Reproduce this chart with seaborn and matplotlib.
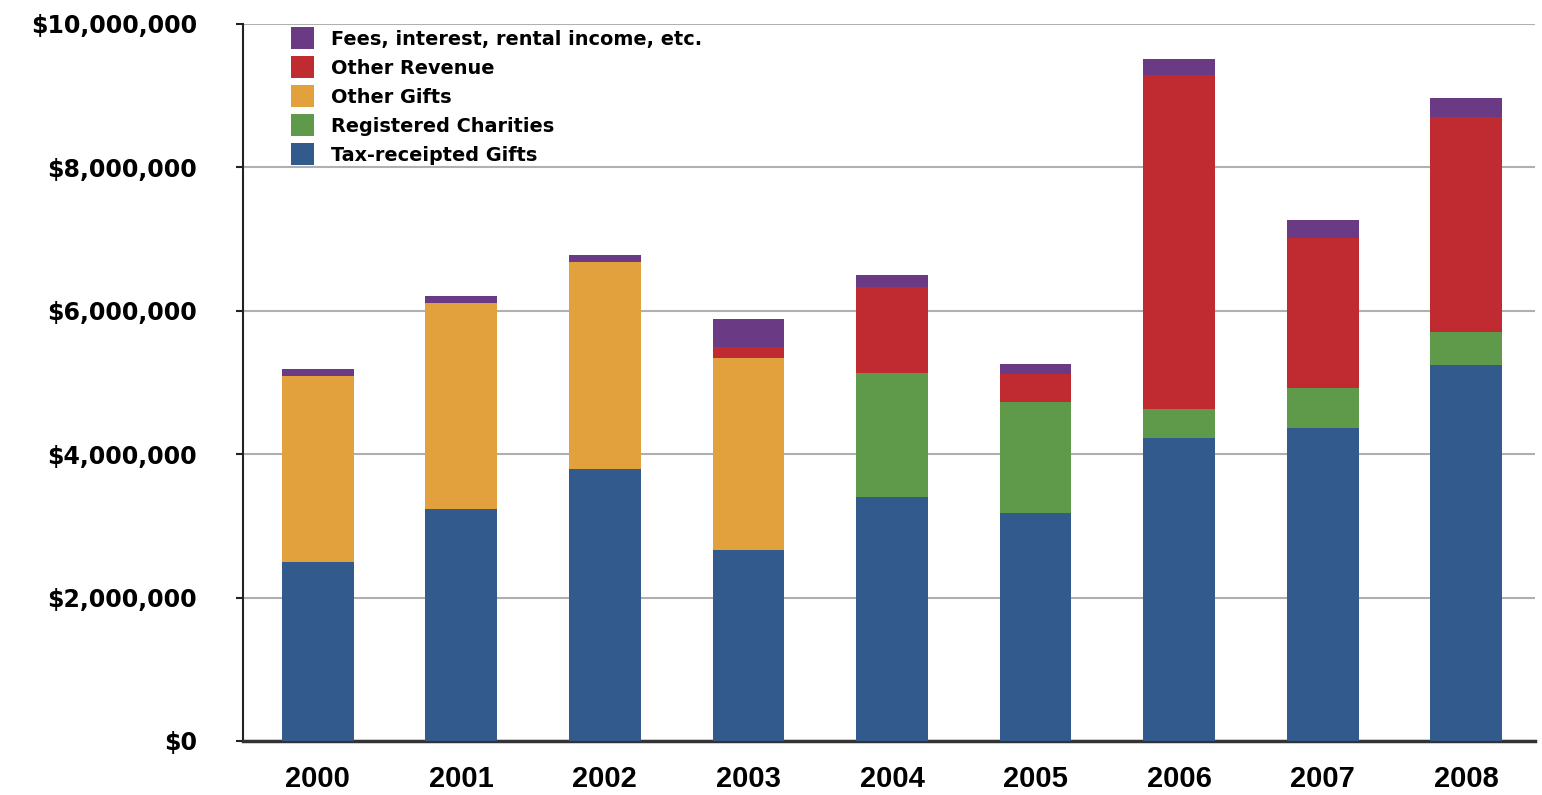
import numpy as np
import pandas as pd
import matplotlib
matplotlib.use("Agg")
import matplotlib.pyplot as plt
from matplotlib.ticker import FuncFormatter
import seaborn as sns

# data (dollars)
years = ["2000", "2001", "2002", "2003", "2004", "2005", "2006", "2007", "2008"]
tax_receipted = [2500000, 3230000, 3790000, 2660000, 3400000, 3180000, 4230000, 4360000, 5240000]
registered_charities = [0, 0, 0, 0, 1730000, 1540000, 400000, 560000, 460000]
other_gifts = [2590000, 2880000, 2890000, 2680000, 0, 0, 0, 0, 0]
other_revenue = [0, 0, 0, 160000, 1200000, 400000, 4660000, 2100000, 3000000]
fees_etc = [100000, 100000, 100000, 390000, 170000, 140000, 220000, 250000, 270000]

series = [
    ("Tax-receipted Gifts", tax_receipted, "#335A8D"),
    ("Registered Charities", registered_charities, "#5E9A4A"),
    ("Other Gifts", other_gifts, "#E3A13D"),
    ("Other Revenue", other_revenue, "#BF2B31"),
    ("Fees, interest, rental income, etc.", fees_etc, "#6A3A84"),
]

# cumulative tops so layers can be drawn from the top down
df = pd.DataFrame({"year": years})
running = np.zeros(len(years))
for name, vals, _ in series:
    running = running + np.array(vals)
    df[name] = running

sns.set_style("white")
fig = plt.figure(figsize=(15.42, 7.95), dpi=100)
ax = fig.add_axes([0.1576, 0.068, 0.838, 0.902])

for name, _, color in reversed(series):
    sns.barplot(data=df, x="year", y=name, color=color, width=0.5,
                saturation=1, label=name, ax=ax, zorder=3,
                edgecolor="none", linewidth=0)

ax.set_ylim(0, 10000000)
ax.set_xlim(-0.52, 8.48)
ax.set_yticks(np.arange(0, 10000001, 2000000))
ax.yaxis.set_major_formatter(FuncFormatter(lambda v, p: f"${v:,.0f}"))
ax.yaxis.grid(True, color="#b0b0b0", linewidth=1.5, zorder=0)
ax.set_axisbelow(True)
ax.set_xlabel("")
ax.set_ylabel("")

for s in ["top", "right"]:
    ax.spines[s].set_visible(False)
ax.spines["left"].set_color("#222222")
ax.spines["left"].set_linewidth(1.5)
ax.spines["bottom"].set_color("#333333")
ax.spines["bottom"].set_linewidth(2.5)

ax.tick_params(axis="y", left=True, length=5, width=1.5, color="#222222", pad=28)
ax.tick_params(axis="x", bottom=False, pad=14)
for lbl in ax.get_yticklabels():
    lbl.set_fontfamily("DejaVu Sans")
    lbl.set_fontweight("bold")
    lbl.set_fontsize(17)
    lbl.set_color("black")
for lbl in ax.get_xticklabels():
    lbl.set_fontfamily("Liberation Sans")
    lbl.set_fontweight("bold")
    lbl.set_fontsize(21)
    lbl.set_color("black")

leg = ax.legend(loc="upper left", bbox_to_anchor=(0.0375, 0.995), frameon=False,
                prop={"family": "DejaVu Sans", "weight": "bold", "size": 13.9},
                handlelength=1.15, handleheight=1.35, handletextpad=0.9,
                labelspacing=0.38, borderaxespad=0, borderpad=0)
for t in leg.get_texts():
    t.set_color("black")

plt.savefig("out.png", dpi=100)
